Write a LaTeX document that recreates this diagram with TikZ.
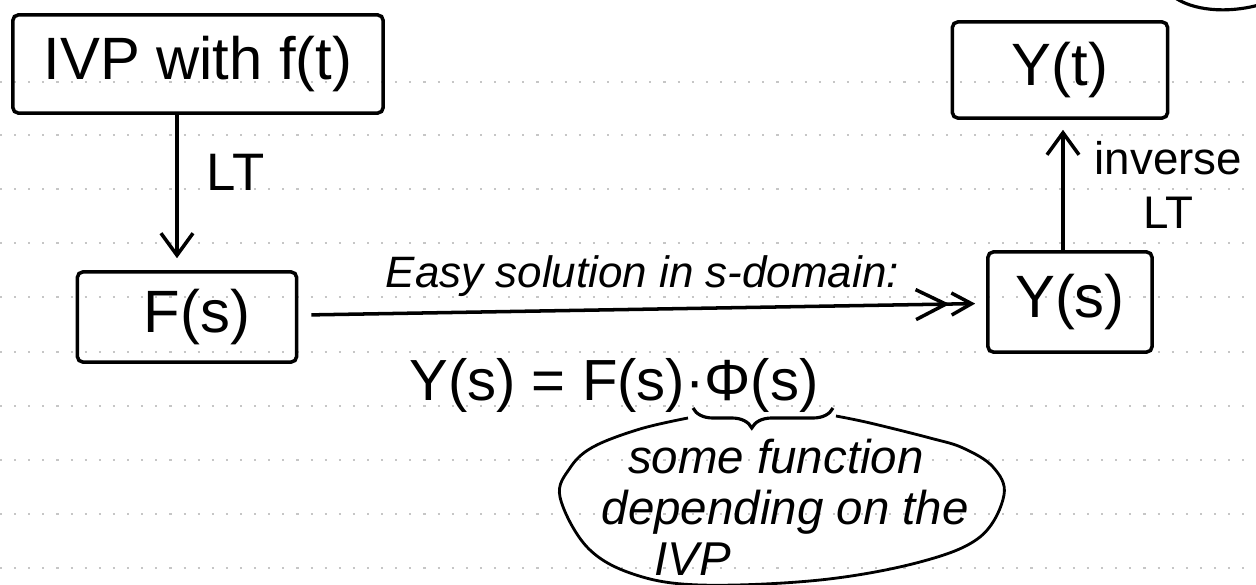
\documentclass[tikz,border=0pt]{standalone}
\usepackage{fontspec}
\setmainfont{Liberation Sans}
\usetikzlibrary{arrows.meta,decorations.pathreplacing}

\begin{document}
\begin{tikzpicture}[x=0.01cm,y=-0.01cm,line width=1pt,
  box/.style={draw,rounded corners=1.5pt,inner sep=0pt,font=\fontsize{17}{20}\selectfont},
  lbl/.style={inner sep=0pt,font=\fontsize{15}{17}\selectfont},
  hand/.style={inner sep=0pt,font=\fontsize{12.5}{15}\selectfont\itshape},
  barb/.style={-{Straight Barb[length=0.22cm,width=0.32cm]}}]
  \useasboundingbox (0,0) rectangle (1256,585);
  \foreach \y in {82,135,189,243,297,352,406,460,514,568}
    \draw[gray!45,line width=0.4pt,dash pattern=on 0.6pt off 0.12cm] (0,\y) -- (1256,\y);
  \node[box,minimum width=3.70cm,minimum height=0.98cm] (ivp) at (198,64) {IVP with f(t)};
  \node[box,minimum width=2.19cm,minimum height=0.90cm] (fs) at (187,317) {\hspace*{0.2cm}F(s)};
  \node[box,minimum width=1.64cm,minimum height=1.00cm] (ys) at (1070,302) {Y(s)};
  \node[box,minimum width=2.15cm,minimum height=0.96cm] (yt) at (1060,70) {Y(t)};
  \draw[barb,shorten >=0.12cm] ([xshift=-0.21cm]ivp.south) -- ([xshift=-0.21cm]ivp.south |- fs.north)
    node[lbl,pos=0.37,right=0.28cm] (lt) {LT};
  \draw[-{Straight Barb[length=0.3cm,width=0.3cm] Straight Barb[length=0.2cm,width=0.22cm]},
    shorten <=0.13cm,shorten >=0.11cm] (fs) -- (ys)
    node[hand,midway,above=3pt] (easy) {Easy solution in s-domain:};
  \draw[barb,shorten >=0.1cm] ([xshift=-0.07cm]ys.north) -- ([xshift=-0.07cm]ys.north |- yt.south)
    node[lbl,font=\fontsize{13}{15.5}\selectfont,midway,right=0.3cm,align=center] (inv) {inverse\\LT};
  \node[lbl,font=\fontsize{16.5}{20}\selectfont] (eq) at (614,385) {Y(s) = F(s)·Φ(s)};
  \draw[line width=0.9pt,decorate,decoration={brace,amplitude=0.2cm,aspect=0.58}] (833,408) -- (693,408);
  \draw[line width=0.8pt] plot[smooth,tension=0.6] coordinates {(688,418) (640,429) (593,447) (570,468)
    (560,497) (587,547) (633,574) (700,585) (820,580) (920,562) (980,537) (1004,495) (993,467)
    (963,448) (930,438) (870,423) (836,416)};
  \node[hand,font=\fontsize{13.5}{14.5}\selectfont\itshape,align=left,anchor=north west] (what) at (600,437)
    {\hspace*{7.5pt}some function\\depending on the\\\hspace*{15pt}IVP};
  \draw[line width=0.9pt] (1174,-3) .. controls (1192,10) and (1225,14) .. (1259,5);
\end{tikzpicture}
\end{document}
